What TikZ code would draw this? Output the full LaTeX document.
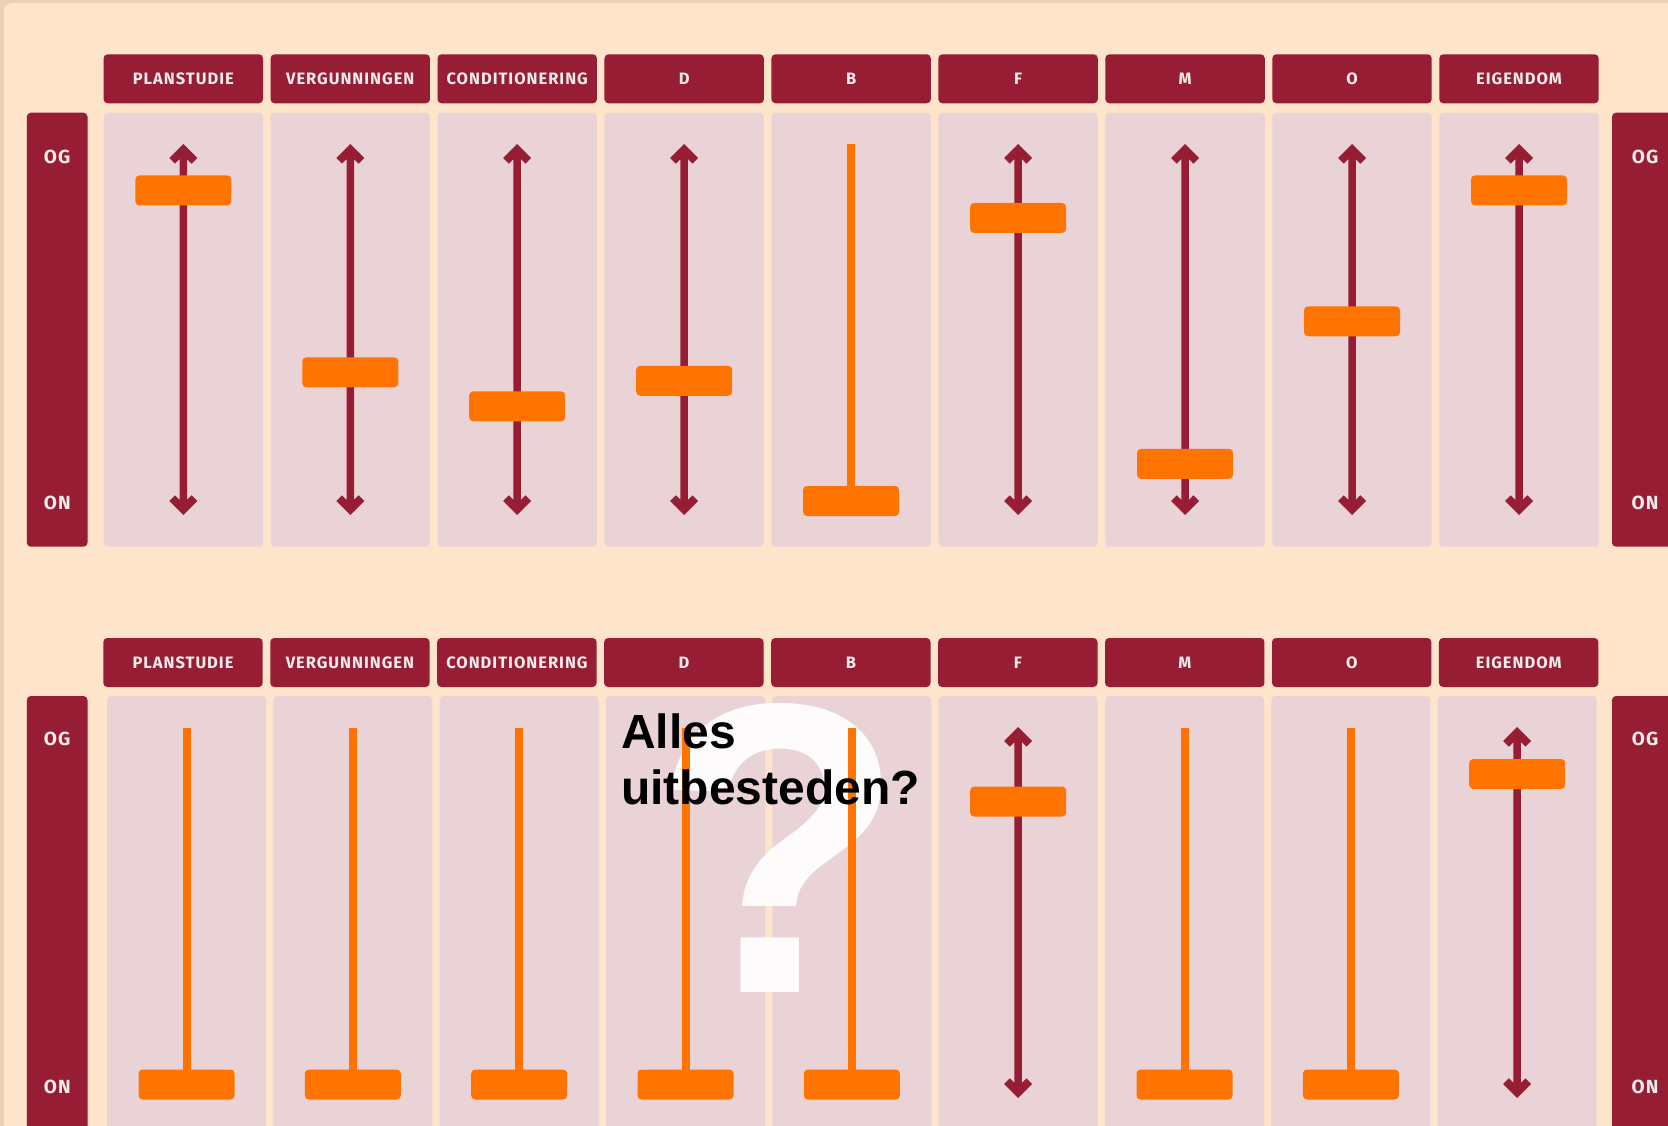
\documentclass[tikz,border=0pt]{standalone}
\usepackage{fontspec}
\setmainfont{Fira Sans}
\newfontfamily\hdrf{Fira Sans}[LetterSpace=6]
\newfontfamily\arialf{Liberation Sans}
\definecolor{bgpeach}{HTML}{FFE4CC}
\definecolor{bgedge}{HTML}{EFCFB3}
\definecolor{panelc}{HTML}{EAD3D7}
\definecolor{dred}{HTML}{961D33}
\definecolor{orng}{HTML}{FF7300}
\definecolor{htext}{HTML}{F6ECEC}
\newcommand\dArrow[3]{%
 \fill[dred] (#1,#2) -- ++(14,14) -- ++(-5.7,5.7) -- ++(-4.55,-4.65) -- ({#1+3.75},{#3-15.05}) -- ++(4.55,-4.65) -- ++(5.7,5.7) -- (#1,#3) -- ++(-14,-14) -- ++(5.7,-5.7) -- ++(4.55,4.65) -- ({#1-3.75},{#2+15.05}) -- ++(-4.55,4.65) -- ++(-5.7,-5.7) -- cycle;}
\newcommand\slid[2]{\fill[orng, rounded corners=4pt] ({#1-48},{#2-15}) rectangle ({#1+48},{#2+15});}
\newcommand\fixline[4]{\fill[orng] ({#1-4},#2) rectangle ({#1+4},#3); \slid{#1}{#4}}
\begin{document}
\begin{tikzpicture}[x=1pt,y=-1pt,
  hdrbox/.style={fill=dred, rounded corners=4pt, minimum width=159.4pt, minimum height=49pt, inner sep=0pt, text=htext, font=\hdrf\bfseries\fontsize{16.5}{18}\selectfont},
  panel/.style={fill=panelc, rounded corners=4pt, minimum width=159.4pt, inner sep=0pt},
  sidebox/.style={fill=dred, rounded corners=4pt},
  sidetext/.style={text=htext, font=\hdrf\bfseries\fontsize{19}{20}\selectfont, inner sep=0pt}]
\useasboundingbox (0,0) rectangle (1668,1126);
\fill[bgedge] (0,0) rectangle (1668,1126);
\fill[bgpeach, rounded corners=8pt] (4,3) rectangle (1690,1140);
% ---- top row
\foreach \t [count=\i from 0] in {PLANSTUDIE,VERGUNNINGEN,CONDITIONERING,D,B,F,M,O,EIGENDOM}{
  \pgfmathsetmacro\cx{183.3+166.96*\i}
  \node[hdrbox] (th\i) at (\cx,78.8) {\t};
  \node[panel, minimum height=434pt] (tp\i) at (\cx,329.7) {};
}
\fill[sidebox] (26.8,112.7) rectangle (87.5,546.7);
\fill[sidebox] (1612,112.7) rectangle (1690,546.7);
\node[sidetext] (tlog) at (57.2,157) {OG};
\node[sidetext] (tlon) at (57.2,503) {ON};
\node[sidetext] (trog) at (1645,157) {OG};
\node[sidetext] (tron) at (1645,503) {ON};
% top arrows and sliders
\dArrow{183.3}{144}{515}\slid{183.3}{190.4}
\dArrow{350.3}{144}{515}\slid{350.3}{372.3}
\dArrow{517.2}{144}{515}\slid{517.2}{406.4}
\dArrow{684.2}{144}{515}\slid{684.2}{380.8}
\fixline{851.1}{143.6}{501}{501}
\dArrow{1018.1}{144}{515}\slid{1018.1}{218}
\dArrow{1185.1}{144}{515}\slid{1185.1}{463.8}
\dArrow{1352.0}{144}{515}\slid{1352.0}{321.3}
\dArrow{1519.0}{144}{515}\slid{1519.0}{190.4}
% ---- bottom row
\foreach \t [count=\i from 0] in {PLANSTUDIE,VERGUNNINGEN,CONDITIONERING,D,B,F,M,O,EIGENDOM}{
  \pgfmathsetmacro\cx{183.0+166.96*\i}
  \pgfmathsetmacro\px{186.5+166.34*\i}
  \node[hdrbox] (bh\i) at (\cx,662.5) {\t};
  \node[panel, minimum height=440pt, minimum width=159pt] (bp\i) at (\px,916) {};
}
\fill[sidebox] (26.8,696) rectangle (87.5,1140);
\fill[sidebox] (1612,696) rectangle (1690,1140);
\node[sidetext] (blog) at (57.2,739) {OG};
\node[sidetext] (blon) at (57.2,1086.5) {ON};
\node[sidetext] (brog) at (1645,739) {OG};
\node[sidetext] (bron) at (1645,1086.5) {ON};
% question mark
\node[anchor=base, inner sep=0pt, text height=290pt, text depth=0pt, text=white, text opacity=0.93, font=\arialf\bfseries\fontsize{414}{414}\selectfont] (qm) at (778.5,992.7) {?};
% bottom sliders
\fixline{186.5}{727.7}{1084.5}{1084.5}
\fixline{352.8}{727.7}{1084.5}{1084.5}
\fixline{519.2}{727.7}{1084.5}{1084.5}
\fixline{685.5}{727.7}{1084.5}{1084.5}
\fixline{851.9}{727.7}{1084.5}{1084.5}
\dArrow{1018.2}{727}{1098}\slid{1018.2}{801.6}
\fixline{1184.5}{727.7}{1084.5}{1084.5}
\fixline{1350.9}{727.7}{1084.5}{1084.5}
\dArrow{1517.2}{727}{1098}\slid{1517.2}{774}
% text
\node[anchor=base west, inner sep=0pt, font=\arialf\bfseries\fontsize{48}{56}\selectfont] (t1) at (621,748) {Alles};
\node[anchor=base west, inner sep=0pt, font=\arialf\bfseries\fontsize{48}{56}\selectfont] (t2) at (621,804) {uitbesteden?};
\end{tikzpicture}
\end{document}
